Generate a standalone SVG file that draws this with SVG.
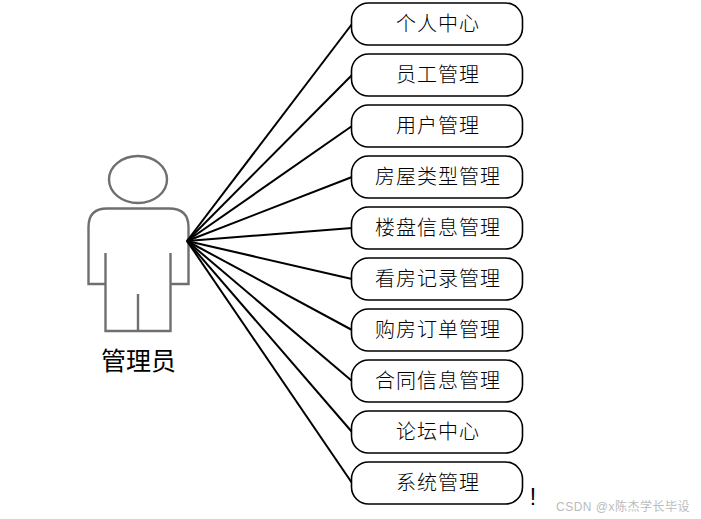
<svg xmlns="http://www.w3.org/2000/svg" width="701" height="519" viewBox="0 0 701 519">
<style>
.box{fill:#fff;stroke:#000;stroke-width:1.6}
.lbl{font-family:"Noto Sans CJK SC","Noto Sans",sans-serif;font-size:20px;font-weight:300;fill:#000;text-anchor:middle;letter-spacing:1px}
.conn line{stroke:#000;stroke-width:2}
.actor{fill:none;stroke:#6f6f6f;stroke-width:2.4}
</style>
<rect width="701" height="519" fill="#fff"/>
<g id="actor">
<ellipse class="actor" cx="138" cy="179.500" rx="29" ry="23.500"/>
<path class="actor" d="M88.500 284V227Q88.500 208.500 107 208.500H169Q188.500 208.500 188.500 227V284H170.500V331H105.500V284ZM105.500 284V253M170.500 284V253M138 331V294"/>
<text x="138.500" y="370" style="font-family:'Noto Sans CJK SC',sans-serif;font-size:25px;fill:#000;text-anchor:middle">管理员</text>
</g>
<g id="connectors" class="conn">
<line x1="187" y1="241" x2="352" y2="24"/>
<line x1="187" y1="241" x2="352" y2="75"/>
<line x1="187" y1="241" x2="352" y2="126"/>
<line x1="187" y1="241" x2="352" y2="177"/>
<line x1="187" y1="241" x2="352" y2="228"/>
<line x1="187" y1="241" x2="352" y2="279"/>
<line x1="187" y1="241" x2="352" y2="330"/>
<line x1="187" y1="241" x2="352" y2="381"/>
<line x1="187" y1="241" x2="352" y2="432"/>
<line x1="187" y1="241" x2="352" y2="483"/>
</g>
<g id="n1"><rect class="box" x="351.500" y="3" width="171" height="42" rx="17"/><text class="lbl" x="438" y="31">个人中心</text></g>
<g id="n2"><rect class="box" x="351.500" y="54" width="171" height="42" rx="17"/><text class="lbl" x="438" y="82">员工管理</text></g>
<g id="n3"><rect class="box" x="351.500" y="105" width="171" height="42" rx="17"/><text class="lbl" x="438" y="133">用户管理</text></g>
<g id="n4"><rect class="box" x="351.500" y="156" width="171" height="42" rx="17"/><text class="lbl" x="438" y="184">房屋类型管理</text></g>
<g id="n5"><rect class="box" x="351.500" y="207" width="171" height="42" rx="17"/><text class="lbl" x="438" y="235">楼盘信息管理</text></g>
<g id="n6"><rect class="box" x="351.500" y="258" width="171" height="42" rx="17"/><text class="lbl" x="438" y="286">看房记录管理</text></g>
<g id="n7"><rect class="box" x="351.500" y="309" width="171" height="42" rx="17"/><text class="lbl" x="438" y="337">购房订单管理</text></g>
<g id="n8"><rect class="box" x="351.500" y="360" width="171" height="42" rx="17"/><text class="lbl" x="438" y="388">合同信息管理</text></g>
<g id="n9"><rect class="box" x="351.500" y="411" width="171" height="42" rx="17"/><text class="lbl" x="438" y="439">论坛中心</text></g>
<g id="n10"><rect class="box" x="351.500" y="462" width="171" height="42" rx="17"/><text class="lbl" x="438" y="490">系统管理</text></g>
<text x="533" y="505" style="font-family:'Liberation Sans',sans-serif;font-size:23px;fill:#000;text-anchor:middle">!</text>
<text x="556" y="511" style="font-family:'Liberation Sans','Noto Sans CJK SC',sans-serif;font-size:12px;letter-spacing:0.5px;fill:#bbb">CSDN @x陈杰学长毕设</text>
</svg>
